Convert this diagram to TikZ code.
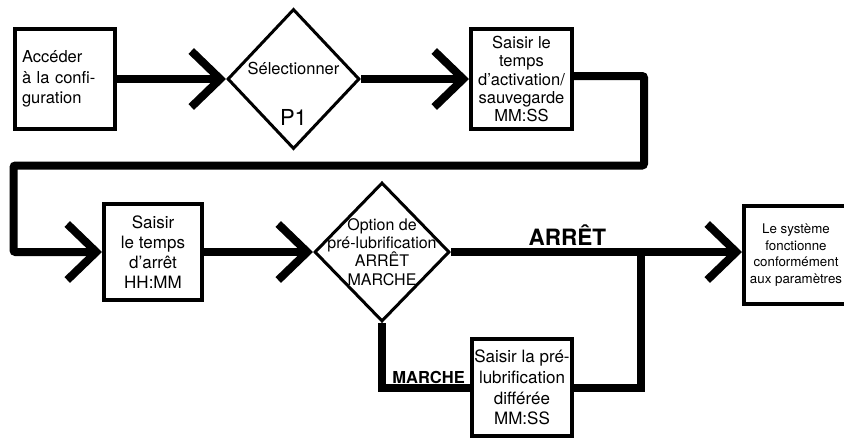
\documentclass[tikz,border=0pt]{standalone}
\usepackage{fontspec}
\setmainfont{TeX Gyre Heros}
\usetikzlibrary{arrows.meta,positioning,shapes.geometric}
\newcommand{\fs}[2]{\fontsize{#1}{#2}\selectfont}

\begin{document}
\begin{tikzpicture}[x=1pt,y=-1pt,
  box/.style={draw,line width=4pt,inner sep=0pt,align=center},
  choice/.style={diamond,draw,line width=3pt,inner sep=0pt},
  flow/.style={line width=8pt},
  arrowin/.style={-{Straight Barb[length=29pt,width=56pt,line width=8pt,sharp]}},
  inside/.style={inner sep=0pt,align=center},
  lbl/.style={inner sep=0pt,font=\bfseries\fs{16.5}{20}},
]
\useasboundingbox (0,0) rectangle (844,440);
\node[box,minimum width=100pt,minimum height=100pt,text width=86pt,align=left,font=\fs{16.5}{20.5}] (acces) at (65,79) {Accéder\\à la confi-\\guration};
\node[choice,minimum width=132pt,minimum height=140pt,right=109pt of acces] (choix) {};
\node[inside,font=\fs{16.5}{20},yshift=11pt] (choixtxt) at (choix.center) {Sélectionner};
\node[inside,font=\fs{22}{26},yshift=-38pt] (choixp) at (choix.center) {P1};
\node[box,minimum width=101pt,minimum height=100pt,font=\fs{16.5}{18.3},right=108pt of choix] (temps) {Saisir le\\temps\\d’activation/\\sauvegarde\\MM:SS};
\node[box,minimum width=98pt,minimum height=96pt,font=\fs{17}{20}] (arret) at (153,252) {Saisir\\le temps\\d’arrêt\\HH:MM};
\node[choice,minimum width=135pt,minimum height=139pt,right=109pt of arret] (option) {};
\node[inside,font=\fs{16}{18.3}] (optiontxt) at (option.center) {Option de\\pré-lubrification\\ARRÊT\\MARCHE};
\node[box,minimum width=104pt,minimum height=98pt,font=\fs{13.3}{16.7},right=291pt of option,yshift=-3pt] (systeme) {Le système\\fonctionne\\conformément\\aux paramètres};
\node[box,minimum width=100pt,minimum height=97pt,font=\fs{17}{20.7}] (differee) at (522,387.5) {Saisir la pré-\\lubrification\\différée\\MM:SS};
\coordinate (hautD) at (644,165.5);
\coordinate (hautG) at (13.5,165.5);
\coordinate (jonction) at (641,252);
\draw[flow,arrowin] (acces.east) -- (choix.west);
\draw[flow,arrowin] (choix.east) -- (temps.west);
\draw[flow,arrowin,rounded corners=2pt] ([yshift=3pt]temps.east) -| (hautD) -- (hautG) |- (arret.west);
\draw[flow,arrowin] (arret.east) -- (option.west);
\draw[flow,arrowin] (option.east) -- (option.east -| systeme.west)
  node[lbl,font=\bfseries\fs{22.5}{26},pos=0.4,above=2.5pt] (arretlbl) {ARRÊT};
\draw[flow] (option.south) |- (differee.west);
\node[lbl,anchor=base east] (marche) at ([xshift=-5pt,yshift=4.5pt]differee.west) {MARCHE};
\draw[flow] (differee.east) -| (jonction);
\end{tikzpicture}
\end{document}
